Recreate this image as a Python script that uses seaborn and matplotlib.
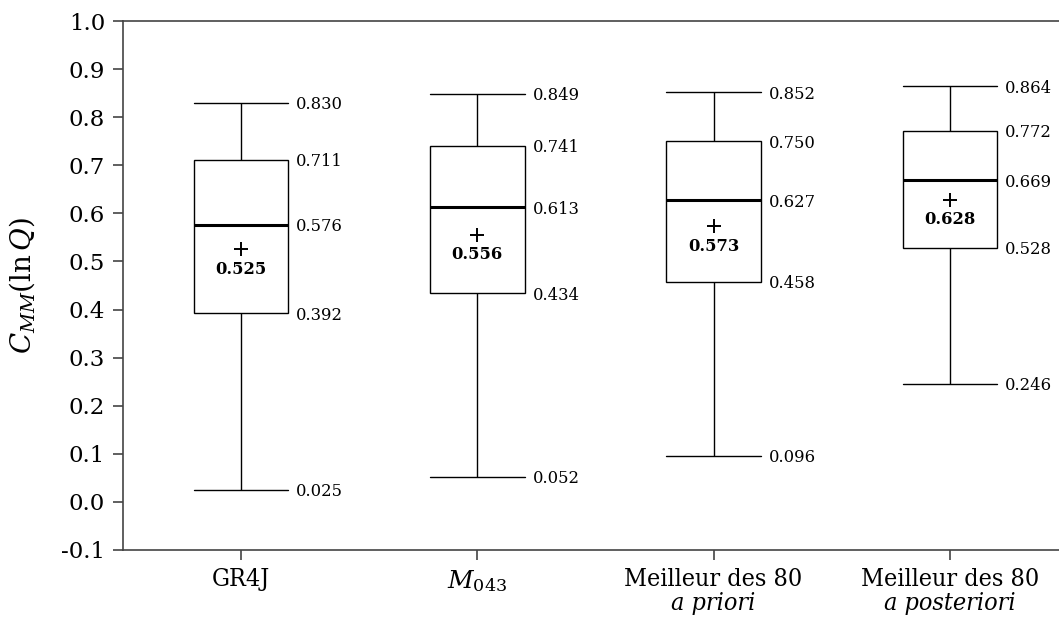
import numpy as np
import pandas as pd
import matplotlib
matplotlib.use("Agg")
import matplotlib.pyplot as plt
import seaborn as sns

# ---- data ----
categories = ["GR4J", "M043", "Meilleur a priori", "Meilleur a posteriori"]
tick_line1 = ["GR4J", r"$M_{043}$", "Meilleur des 80", "Meilleur des 80"]
tick_line2 = ["", "", "a priori", "a posteriori"]
min_vals = [0.025, 0.052, 0.096, 0.246]
q1_vals = [0.392, 0.434, 0.458, 0.528]
median_vals = [0.576, 0.613, 0.627, 0.669]
q3_vals = [0.711, 0.741, 0.750, 0.772]
max_vals = [0.830, 0.849, 0.852, 0.864]
mean_vals = [0.525, 0.556, 0.573, 0.628]
yticks = [-0.1, 0.0, 0.1, 0.2, 0.3, 0.4, 0.5, 0.6, 0.7, 0.8, 0.9, 1.0]

sns.set_theme(style="white")
plt.rcParams["font.family"] = ["DejaVu Serif", "DejaVu Sans"]
plt.rcParams["mathtext.fontset"] = "dejavuserif"
plt.rcParams["text.color"] = "black"
plt.rcParams["axes.labelcolor"] = "black"

# five-number summaries; with 5 points the quartiles fall exactly on them
rows = []
for c, a, b, m, d, e in zip(categories, min_vals, q1_vals, median_vals, q3_vals, max_vals):
    for v in (a, b, m, d, e):
        rows.append({"model": c, "value": v})
df = pd.DataFrame(rows)
means = pd.DataFrame({"model": categories, "value": mean_vals})

fig = plt.figure(figsize=(10.59, 6.19), dpi=100)
ax = fig.add_axes([123 / 1059, 69 / 619, 945 / 1059, 529 / 619])

sns.boxplot(data=df, x="model", y="value", order=categories, ax=ax,
            whis=(0, 100), width=0.4, fill=True, color="white",
            linecolor="black", linewidth=1.0, capwidths=0.4,
            boxprops=dict(facecolor="white", edgecolor="black", linewidth=1.0),
            medianprops=dict(color="black", linewidth=2.2),
            whiskerprops=dict(color="black", linewidth=1.0),
            capprops=dict(color="black", linewidth=1.0),
            showfliers=False)

sns.scatterplot(data=means, x="model", y="value", ax=ax, marker="+",
                s=110, color="black", linewidth=1.4, legend=False, zorder=5)

# value annotations
for i, c in enumerate(categories):
    for v in (min_vals[i], q1_vals[i], median_vals[i], q3_vals[i], max_vals[i]):
        ax.text(i + 0.233, v, f"{v:.3f}", ha="left", va="center_baseline",
                fontsize=11.8, color="black")
    ax.annotate(f"{mean_vals[i]:.3f}", xy=(i, mean_vals[i]), xytext=(0, -13),
                textcoords="offset points", ha="center", va="center_baseline",
                fontsize=11.8, fontweight="bold", color="black")

ax.set_xlim(-0.5, 3.5)
ax.set_ylim(-0.1, 1.0)
ax.set_yticks(yticks)
ax.set_yticklabels([f"{t:.1f}" for t in yticks], fontsize=16.5)
ax.set_xticks(range(len(categories)))
ax.set_xticklabels(tick_line1, fontsize=18, fontstretch="condensed")
for i, t in enumerate(tick_line2):
    if t:
        ax.text(i, -0.1134, t, transform=ax.get_xaxis_transform(),
                ha="center", va="baseline", fontsize=18, fontstyle="italic",
                fontstretch="condensed", color="black")
ax.set_xlabel("")
ax.set_ylabel(r"$C_{MM}\left(\ln Q\right)$", fontsize=20, labelpad=17,
              color="black")

for side in ("top", "left", "bottom", "right"):
    ax.spines[side].set_visible(True)
    ax.spines[side].set_color("#444444")
    ax.spines[side].set_linewidth(1.2)
ax.tick_params(axis="both", direction="out", length=7, width=1.2,
               color="#444444", labelcolor="black", left=True, bottom=True)
ax.tick_params(axis="y", pad=6)
ax.tick_params(axis="x", pad=6)

fig.savefig("out.png", dpi=100)
